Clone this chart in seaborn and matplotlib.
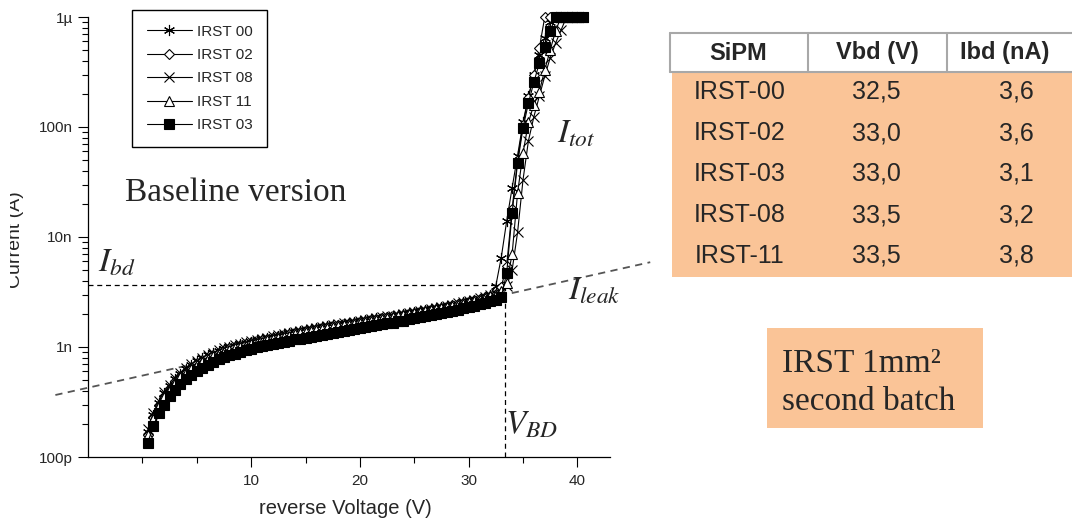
import numpy as np
import matplotlib
matplotlib.use("Agg")
import matplotlib.pyplot as plt
import seaborn as sns
from matplotlib.patches import Rectangle
from matplotlib.ticker import FixedLocator, NullFormatter

# reverse voltage (V), same grid for every device
volt = [0.5, 1.0, 1.5, 2.0, 2.5, 3.0, 3.5, 4.0, 4.5, 5.0, 5.5, 6.0, 6.5, 7.0, 7.5, 8.0,
        8.5, 9.0, 9.5, 10.0, 10.5, 11.0, 11.5, 12.0, 12.5, 13.0, 13.5, 14.0, 14.5, 15.0,
        15.5, 16.0, 16.5, 17.0, 17.5, 18.0, 18.5, 19.0, 19.5, 20.0, 20.5, 21.0, 21.5, 22.0,
        22.5, 23.0, 23.5, 24.0, 24.5, 25.0, 25.5, 26.0, 26.5, 27.0, 27.5, 28.0, 28.5, 29.0,
        29.5, 30.0, 30.5, 31.0, 31.5, 32.0, 32.5, 33.0, 33.5, 34.0, 34.5, 35.0, 35.5, 36.0,
        36.5, 37.0, 37.5, 38.0, 38.5, 39.0, 39.5, 40.0, 40.5]

# current in nA
irst00 = [0.17, 0.24, 0.31, 0.38, 0.44, 0.51, 0.57, 0.63, 0.69, 0.74, 0.79, 0.84, 0.88, 0.92,
          0.96, 1.00, 1.03, 1.06, 1.09, 1.12, 1.15, 1.18, 1.21, 1.24, 1.27, 1.30, 1.33, 1.36,
          1.39, 1.42, 1.45, 1.48, 1.51, 1.54, 1.57, 1.60, 1.63, 1.66, 1.69, 1.72, 1.75, 1.78,
          1.82, 1.85, 1.89, 1.92, 1.96, 2.00, 2.04, 2.08, 2.12, 2.17, 2.21, 2.26, 2.31, 2.36,
          2.42, 2.48, 2.54, 2.61, 2.68, 2.76, 2.85, 3.0, 3.6, 6.5, 14, 28, 55, 110, 190, 300,
          450, 650, 900, 1000, 1000, 1000, 1000, 1000, 1000]
irst02 = [0.16, 0.23, 0.30, 0.36, 0.42, 0.49, 0.55, 0.61, 0.66, 0.71, 0.76, 0.81, 0.85, 0.89,
          0.93, 0.97, 1.00, 1.03, 1.06, 1.09, 1.12, 1.15, 1.18, 1.21, 1.24, 1.27, 1.30, 1.33,
          1.36, 1.39, 1.42, 1.45, 1.48, 1.51, 1.54, 1.57, 1.60, 1.63, 1.66, 1.69, 1.72, 1.75,
          1.79, 1.82, 1.86, 1.89, 1.93, 1.97, 2.01, 2.05, 2.09, 2.14, 2.18, 2.23, 2.28, 2.33,
          2.39, 2.45, 2.51, 2.58, 2.65, 2.73, 2.82, 2.92, 3.05, 3.5, 5.5, 18, 50, 105, 185, 300,
          520, 1000, 1000, 1000, 1000, 1000, 1000, 1000, 1000]
irst08 = [0.18, 0.25, 0.32, 0.39, 0.45, 0.52, 0.58, 0.64, 0.70, 0.75, 0.80, 0.85, 0.89, 0.93,
          0.97, 1.01, 1.04, 1.07, 1.10, 1.13, 1.16, 1.19, 1.22, 1.25, 1.28, 1.31, 1.34, 1.37,
          1.40, 1.43, 1.46, 1.49, 1.52, 1.55, 1.58, 1.61, 1.64, 1.67, 1.70, 1.73, 1.76, 1.79,
          1.83, 1.86, 1.90, 1.93, 1.97, 2.01, 2.05, 2.09, 2.13, 2.18, 2.22, 2.27, 2.32, 2.37,
          2.43, 2.49, 2.55, 2.62, 2.69, 2.77, 2.86, 2.96, 3.06, 3.18, 3.6, 5.0, 11, 33, 75, 124,
          190, 290, 425, 580, 760, 1000, 1000, 1000, 1000]
irst11 = [0.16, 0.22, 0.29, 0.35, 0.41, 0.47, 0.53, 0.58, 0.63, 0.68, 0.73, 0.78, 0.82, 0.86,
          0.90, 0.94, 0.97, 1.00, 1.03, 1.06, 1.09, 1.12, 1.15, 1.18, 1.21, 1.24, 1.27, 1.30,
          1.33, 1.36, 1.39, 1.42, 1.45, 1.48, 1.51, 1.54, 1.57, 1.60, 1.63, 1.66, 1.69, 1.72,
          1.76, 1.79, 1.83, 1.86, 1.90, 1.94, 1.98, 2.02, 2.06, 2.11, 2.15, 2.20, 2.25, 2.30,
          2.36, 2.42, 2.48, 2.55, 2.62, 2.70, 2.79, 2.89, 3.0, 3.2, 3.8, 7.0, 25, 58, 110, 160,
          210, 330, 500, 750, 1000, 1000, 1000, 1000, 1000]
irst03 = [0.135, 0.19, 0.25, 0.30, 0.355, 0.41, 0.46, 0.51, 0.56, 0.60, 0.65, 0.69, 0.73, 0.77,
          0.81, 0.84, 0.87, 0.90, 0.93, 0.96, 0.99, 1.02, 1.04, 1.07, 1.09, 1.12, 1.14, 1.17,
          1.19, 1.22, 1.24, 1.27, 1.29, 1.32, 1.35, 1.37, 1.40, 1.43, 1.46, 1.49, 1.52, 1.55,
          1.58, 1.61, 1.64, 1.67, 1.71, 1.74, 1.78, 1.82, 1.86, 1.90, 1.94, 1.98, 2.03, 2.08,
          2.13, 2.18, 2.24, 2.30, 2.37, 2.44, 2.52, 2.60, 2.70, 2.85, 4.7, 16.6, 47, 98, 165,
          256, 380, 535, 745, 1000, 1000, 1000, 1000, 1000, 1000]

# annotation lines
v_bd = 33.3
i_bd = 3.65e-9
leak_v = [-8.0, 46.7]
leak_i = [0.366e-9, 5.9e-9]

# table on the right
sipm = ["IRST-00", "IRST-02", "IRST-03", "IRST-08", "IRST-11"]
vbd = ["32,5", "33,0", "33,0", "33,5", "33,5"]
ibd = ["3,6", "3,6", "3,1", "3,2", "3,8"]

sns.set_style("ticks")
plt.rcParams["font.family"] = ["Liberation Sans", "DejaVu Sans"]
plt.rcParams["mathtext.fontset"] = "stix"

W, H = 1072, 525
fx = lambda p: p / W
fy = lambda p: 1 - p / H

fig = plt.figure(figsize=(W / 100, H / 100), dpi=100)
ax = fig.add_axes([fx(88), fy(457), 522 / W, 440 / H])

ax.plot(leak_v, leak_i, ls=(0, (4, 3)), color="#555555", lw=1.3, clip_on=False, zorder=1)
ax.plot([-5, v_bd], [i_bd, i_bd], ls=(0, (4, 3)), color="black", lw=0.9, zorder=1)
ax.plot([v_bd, v_bd], [1e-10, i_bd], ls=(0, (4, 3)), color="black", lw=0.9, zorder=1)

series = [
    ("IRST 00", irst00, dict(marker=(6, 2, 0), mfc="none", markersize=8)),
    ("IRST 02", irst02, dict(marker="D", mfc="white", markersize=5.5)),
    ("IRST 08", irst08, dict(marker="x", mfc="none", markersize=7)),
    ("IRST 11", irst11, dict(marker="^", mfc="white", markersize=6.5)),
    ("IRST 03", irst03, dict(marker="s", mfc="black", markersize=7.5)),
]
for name, cur, kw in series:
    sns.lineplot(x=volt, y=np.array(cur) * 1e-9, color="black", lw=0.8, mec="black",
                 mew=0.8, label=name, clip_on=False, ax=ax, zorder=3, **kw)

ax.set_yscale("log")
ax.set_ylim(1e-10, 1e-6)
ax.set_xlim(-5, 43)
ax.set_yticks([1e-10, 1e-9, 1e-8, 1e-7, 1e-6], ["100p", "1n", "10n", "100n", "1µ"])
ax.yaxis.set_minor_formatter(NullFormatter())
ax.set_xticks([10, 20, 30, 40])
ax.xaxis.set_minor_locator(FixedLocator([0, 5, 15, 25, 35]))
ax.tick_params(which="major", length=7, width=0.8, labelsize=11, color="black")
ax.tick_params(which="minor", length=4, width=0.8, color="black")
ax.tick_params(axis="x", which="major", pad=5)
ax.tick_params(axis="y", which="major", pad=4)
for s in ["top", "right"]:
    ax.spines[s].set_visible(False)
for s in ["left", "bottom"]:
    ax.spines[s].set_color("black")
    ax.spines[s].set_linewidth(0.9)
ax.set_xlabel("")
ax.set_ylabel("")

fig.text(fx(345), fy(508), "reverse Voltage (V)", ha="center", va="center", fontsize=14.5)
fig.text(fx(16), fy(240), "Current (A)", ha="center", va="center", rotation=90, fontsize=14)
# left edge of the label is cut off in the original
fig.patches.append(Rectangle((0, fy(320)), fx(10), 170 / H, transform=fig.transFigure,
                             facecolor="white", edgecolor="none", zorder=5))

leg = ax.legend(loc="upper left", bbox_to_anchor=(fx(132), fy(10)), bbox_transform=fig.transFigure,
                borderaxespad=0, fancybox=False, edgecolor="black", framealpha=1, fontsize=11,
                handlelength=3.0, labelspacing=0.62, borderpad=0.95, handletextpad=0.3)
leg.get_frame().set_linewidth(1.0)

serif = ["Liberation Serif", "DejaVu Serif"]
fig.text(fx(125), fy(201), "Baseline version", family=serif, fontsize=24, ha="left", va="baseline")
fig.text(fx(557), fy(142), r"$I_{tot}$", fontsize=24, ha="left", va="baseline")
fig.text(fx(98), fy(272), r"$I_{bd}$", fontsize=24, ha="left", va="baseline")
fig.text(fx(568), fy(300), r"$I_{leak}$", fontsize=24, ha="left", va="baseline")
fig.text(fx(505), fy(433), r"$V_{BD}$", fontsize=24, ha="left", va="baseline")

# table
orange = "#FAC497"
fig.patches.append(Rectangle((fx(672), fy(277)), (W - 672) / W, 205 / H, transform=fig.transFigure,
                             facecolor=orange, edgecolor="none"))
grey = "#A8A8A8"
fig.add_artist(plt.Line2D([fx(670), 1], [fy(33), fy(33)], color=grey, lw=1.5, transform=fig.transFigure))
fig.add_artist(plt.Line2D([fx(670), 1], [fy(72), fy(72)], color=grey, lw=1.5, transform=fig.transFigure))
for xs in [670, 808, 947]:
    fig.add_artist(plt.Line2D([fx(xs), fx(xs)], [fy(33), fy(72)], color=grey, lw=1.5,
                              transform=fig.transFigure))
for txt, xc in zip(["SiPM", "Vbd (V)", "Ibd (nA)"], [738, 877, 1005]):
    fig.text(fx(xc), fy(53), txt, ha="center", va="center", fontsize=17, fontweight="heavy")
for k in range(len(sipm)):
    yc = 92 + 41 * k
    fig.text(fx(740), fy(yc), sipm[k], ha="center", va="center", fontsize=18)
    fig.text(fx(876), fy(yc), vbd[k], ha="center", va="center", fontsize=18)
    fig.text(fx(1016), fy(yc), ibd[k], ha="center", va="center", fontsize=18)

fig.patches.append(Rectangle((fx(767), fy(428)), 216 / W, 100 / H, transform=fig.transFigure,
                             facecolor=orange, edgecolor="none"))
fig.text(fx(782), fy(372), "IRST 1mm²", family=serif, fontsize=24, ha="left", va="baseline")
fig.text(fx(782), fy(410), "second batch", family=serif, fontsize=24, ha="left", va="baseline")

fig.savefig("out.png", dpi=100)
